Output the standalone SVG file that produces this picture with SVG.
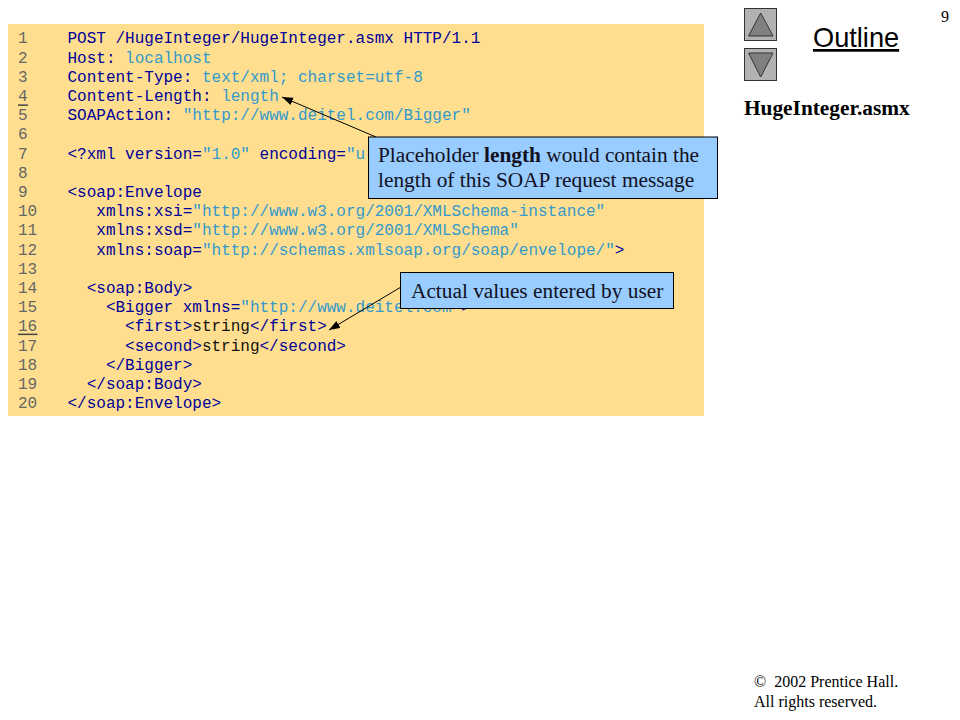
<svg xmlns="http://www.w3.org/2000/svg" width="960" height="720" viewBox="0 0 960 720">
<style>
text{white-space:pre}
.c{font-family:"Liberation Mono","Courier New",monospace;font-size:16px;fill:#000099}
.n{font-family:"Liberation Mono","Courier New",monospace;font-size:16px;fill:#666666}
.s{fill:#3399cc}
.k{fill:#111111}
.t{font-family:"Liberation Serif","Times New Roman",serif;fill:#000000}
.b{font-size:21.330px;fill:#111122}
.box{fill:#99ccff;stroke:#000000;stroke-width:1}
.btn{fill:#b2b2b2;stroke:#333333;stroke-width:1}
.tri{fill:#808080;stroke:#333333;stroke-width:1}
.ln{stroke:#000000;stroke-width:1;fill:none;marker-end:url(#ah)}
</style>
<defs><marker id="ah" markerUnits="userSpaceOnUse" markerWidth="12" markerHeight="10" refX="11" refY="4" orient="auto"><path d="M0 0L11 4L0 8z" fill="#000000"/></marker></defs>
<rect id="code-panel" x="8" y="24" width="696" height="392" fill="#ffdf8f"/>
<g id="line-numbers" class="n">
<text x="18" y="43.4">1</text><text x="18" y="62.6">2</text><text x="18" y="81.8">3</text><text x="18" y="101">4</text><text x="18" y="120.2">5</text><text x="18" y="139.4">6</text><text x="18" y="158.6">7</text><text x="18" y="177.8">8</text><text x="18" y="197">9</text><text x="18" y="216.2">10</text><text x="18" y="235.4">11</text><text x="18" y="254.6">12</text><text x="18" y="273.8">13</text><text x="18" y="293">14</text><text x="18" y="312.2">15</text><text x="18" y="331.4">16</text><text x="18" y="350.6">17</text><text x="18" y="369.8">18</text><text x="18" y="389">19</text><text x="18" y="408.2">20</text>
<rect x="18" y="104.4" width="10" height="1.5" fill="#444444"/><rect x="18" y="333.6" width="19.5" height="1.5" fill="#444444"/>
</g>
<g id="code" class="c">
<text x="67.5" y="43.4">POST /HugeInteger/HugeInteger.asmx HTTP/1.1</text>
<text x="67.5" y="62.6">Host: <tspan class="s">localhost</tspan></text>
<text x="67.5" y="81.8">Content-Type: <tspan class="s">text/xml; charset=utf-8</tspan></text>
<text x="67.5" y="101">Content-Length: <tspan class="s">length</tspan></text>
<text x="67.5" y="120.2">SOAPAction: <tspan class="s">"http://www.deitel.com/Bigger"</tspan></text>
<text x="67.5" y="158.6">&lt;?xml version=<tspan class="s">"1.0"</tspan> encoding=<tspan class="s">"u</tspan></text>
<text x="67.5" y="197">&lt;soap:Envelope</text>
<text x="96.3" y="216.2">xmlns:xsi=<tspan class="s">"http://www.w3.org/2001/XMLSchema-instance"</tspan></text>
<text x="96.3" y="235.4">xmlns:xsd=<tspan class="s">"http://www.w3.org/2001/XMLSchema"</tspan></text>
<text x="96.3" y="254.6">xmlns:soap=<tspan class="s">"http://schemas.xmlsoap.org/soap/envelope/"</tspan>&gt;</text>
<text x="86.7" y="293">&lt;soap:Body&gt;</text>
<text x="105.9" y="312.2">&lt;Bigger xmlns=<tspan class="s">"http://www.deitel.com"</tspan>&gt;</text>
<text x="125.1" y="331.4">&lt;first&gt;<tspan class="k">string</tspan>&lt;/first&gt;</text>
<text x="125.1" y="350.6">&lt;second&gt;<tspan class="k">string</tspan>&lt;/second&gt;</text>
<text x="105.9" y="369.8">&lt;/Bigger&gt;</text>
<text x="86.7" y="389">&lt;/soap:Body&gt;</text>
<text x="67.5" y="408.2">&lt;/soap:Envelope&gt;</text>
</g>
<g id="connectors">
<line class="ln" x1="376" y1="137" x2="282" y2="97"/>
<line class="ln" x1="401" y1="287" x2="329" y2="330"/>
</g>
<g id="callout-length">
<rect class="box" x="368.500" y="137" width="349" height="61.500"/>
<text class="t b" x="378" y="162">Placeholder <tspan font-weight="bold">length</tspan> would contain the</text>
<text class="t b" x="378" y="187">length of this SOAP request message</text>
</g>
<g id="callout-values">
<rect class="box" x="400.500" y="272.500" width="273" height="36"/>
<text class="t b" x="411" y="298">Actual values entered by user</text>
</g>
<g id="nav-up">
<rect class="btn" x="744.500" y="8.500" width="32" height="32"/>
<path class="tri" d="M760.700 13L773 36H748.500z"/>
</g>
<g id="nav-down">
<rect class="btn" x="744.500" y="48.500" width="32" height="32"/>
<path class="tri" d="M748.500 53H773L760.700 77z"/>
</g>
<g id="outline-title">
<text x="813" y="47" font-family="'Liberation Sans',Arial,sans-serif" font-size="27.200" fill="#000000" text-decoration="underline">Outline</text>
</g>
<text id="page-number" class="t" x="941" y="22" font-size="16">9</text>
<text id="file-name" class="t" x="744" y="114.500" font-size="21.330" font-weight="bold">HugeInteger.asmx</text>
<g id="copyright" class="t" font-size="16">
<text x="754" y="686.500">©  2002 Prentice Hall.</text>
<text x="754" y="706.500">All rights reserved.</text>
</g>
</svg>
